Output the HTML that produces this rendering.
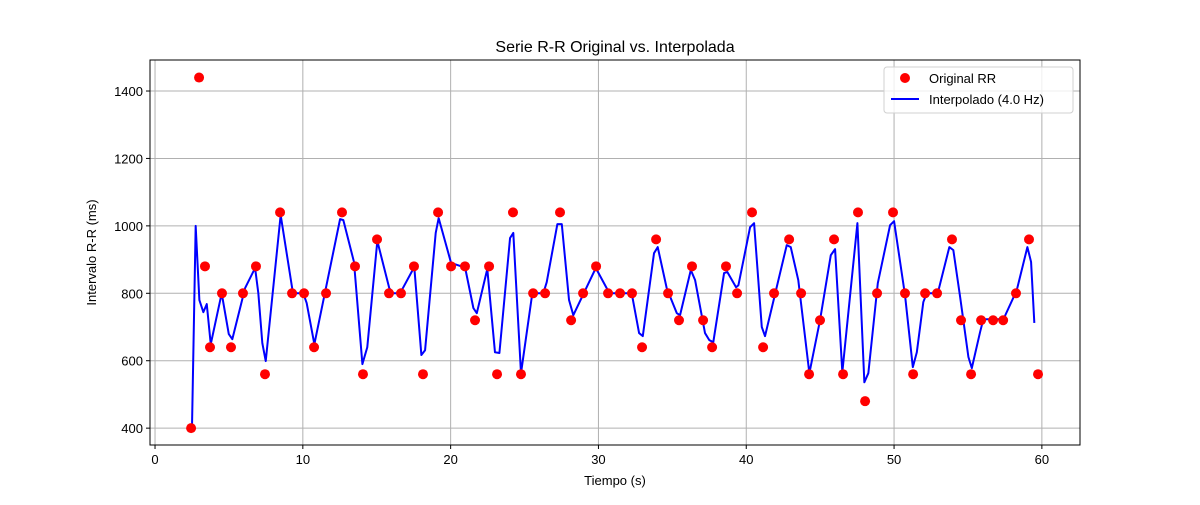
<!DOCTYPE html>
<html><head><meta charset="utf-8"><style>
body{margin:0;background:#fff;font-family:"Liberation Sans","DejaVu Sans",sans-serif}
</style></head><body>
<svg id="chart" width="1200" height="500" xmlns="http://www.w3.org/2000/svg" font-family="Liberation Sans, DejaVu Sans, sans-serif"></svg>
<script>
const rrTimes=[2.44,2.98,3.38,3.72,4.53,5.14,5.95,6.83,7.44,8.46,9.27,10.08,10.76,11.57,12.65,13.53,14.07,15.02,15.83,16.64,17.52,18.13,19.15,20.03,20.97,21.65,22.60,23.14,24.22,24.76,25.58,26.39,27.40,28.15,28.96,29.84,30.65,31.46,32.27,32.95,33.90,34.71,35.45,36.33,37.08,37.69,38.63,39.38,40.39,41.14,41.88,42.90,43.71,44.25,44.99,45.94,46.55,47.56,48.04,48.85,49.93,50.74,51.29,52.10,52.91,53.92,54.53,55.21,55.89,56.70,57.38,58.25,59.13,59.74];
const rrValues=[400,1440,880,640,800,640,800,880,560,1040,800,800,640,800,1040,880,560,960,800,800,880,560,1040,880,880,720,880,560,1040,560,800,800,1040,720,800,880,800,800,800,640,960,800,720,880,720,640,880,800,1040,640,800,960,800,560,720,960,560,1040,480,800,1040,800,560,800,800,960,720,560,720,720,720,800,960,560];
const interpTimes=[2.50,2.75,3.00,3.27,3.50,3.77,4.51,4.99,5.23,6.09,6.77,6.99,7.26,7.49,8.50,9.29,9.59,10.03,10.26,10.78,12.52,12.74,13.46,14.03,14.36,15.04,15.85,16.12,16.58,17.54,18.02,18.27,18.99,19.19,20.03,20.64,20.97,21.54,21.77,22.48,23.00,23.30,24.02,24.24,24.76,25.49,25.71,26.27,26.50,27.22,27.52,28.01,28.30,29.82,30.56,30.74,32.25,32.75,33.00,33.76,34.01,34.62,35.30,35.52,36.25,36.54,37.21,37.50,37.77,38.50,38.72,39.31,39.47,40.26,40.53,41.05,41.27,42.74,43.01,43.52,44.27,44.99,45.72,46.01,46.50,47.52,47.99,48.26,48.90,49.73,50.00,50.74,51.27,51.54,51.98,52.21,52.89,53.04,53.74,54.01,54.47,55.03,55.26,55.82,56.04,57.40,58.30,59.02,59.27,59.49];
const interpValues=[400,1000,780,744,768,649,800,679,664,815,875,800,652,599,1032,812,800,800,771,649,1020,1017,893,590,640,955,815,800,800,878,617,631,979,1023,890,881,878,756,741,872,625,623,964,979,563,789,800,800,833,1005,1005,780,735,875,815,800,800,682,673,919,937,815,741,735,869,839,682,661,655,860,863,818,824,996,1008,700,673,943,937,839,563,720,913,931,566,1008,536,563,830,1002,1014,795,581,625,774,800,800,815,937,928,789,611,578,685,723,723,809,937,893,712];
const xTicks=[0,10,20,30,40,50,60];
const yTicks=[400,600,800,1000,1200,1400];

const L=150,R=1080,T=60,B=445;
const xMin=-0.34,xMax=62.58,yMin=350,yMax=1492;
const X=v=>L+(v-xMin)/(xMax-xMin)*(R-L);
const Y=v=>B-(v-yMin)/(yMax-yMin)*(B-T);
const svg=document.getElementById('chart');
const NS='http://www.w3.org/2000/svg';
function mk(tag,attrs,parent){const e=document.createElementNS(NS,tag);for(const k in attrs)e.setAttribute(k,attrs[k]);(parent||svg).appendChild(e);return e;}

const grid=mk('g',{});


xTicks.forEach(t=>{
  const x=X(t);
  mk('line',{x1:x,x2:x,y1:T,y2:B,stroke:'#b0b0b0','stroke-width':1},grid);
  mk('line',{x1:x,x2:x,y1:B,y2:B+4,stroke:'#000'},grid);
  const tx=mk('text',{x:x,y:B+19,'text-anchor':'middle','font-size':13},grid);
  tx.textContent=t;
  
  
});
yTicks.forEach(t=>{
  const y=Y(t);
  mk('line',{x1:L,x2:R,y1:y,y2:y,stroke:'#b0b0b0','stroke-width':1},grid);
  mk('line',{x1:L-4,x2:L,y1:y,y2:y,stroke:'#000'},grid);
  const tx=mk('text',{x:L-7,y:y+5,'text-anchor':'end','font-size':13},grid);
  tx.textContent=t;
  
  
});

const line=mk('polyline',{points:interpTimes.map((t,i)=>X(t)+','+Y(interpValues[i])).join(' '),fill:'none',stroke:'#0000ff','stroke-width':2,'stroke-linejoin':'round'});



rrTimes.forEach((t,i)=>{
  const c=mk('circle',{cx:X(t),cy:Y(rrValues[i]),r:5,fill:'#ff0000'});
  
  
});

const frame=mk('rect',{x:L,y:T,width:R-L,height:B-T,fill:'none',stroke:'#000','stroke-width':1});



const title=mk('text',{x:(L+R)/2,y:52,'text-anchor':'middle','font-size':16});
title.textContent='Serie R-R Original vs. Interpolada';


const xl=mk('text',{x:(L+R)/2,y:485,'text-anchor':'middle','font-size':13});
xl.textContent='Tiempo (s)';


const yl=mk('text',{x:96,y:(T+B)/2,'text-anchor':'middle','font-size':13,transform:'rotate(-90 96 '+((T+B)/2)+')'});
yl.textContent='Intervalo R-R (ms)';



const lg=mk('g',{});


mk('rect',{x:884,y:67,width:189,height:46,rx:3,fill:'#fff','fill-opacity':0.8,stroke:'#d0d0d0'},lg);
const lc=mk('circle',{cx:905,cy:78,r:5,fill:'#ff0000'},lg);


const t1=mk('text',{x:929,y:83,'font-size':13},lg);t1.textContent='Original RR';
const ll=mk('line',{x1:891,x2:919,y1:99,y2:99,stroke:'#0000ff','stroke-width':2},lg);


const t2=mk('text',{x:929,y:104,'font-size':13},lg);t2.textContent='Interpolado (4.0 Hz)';
</script>
</body></html>
